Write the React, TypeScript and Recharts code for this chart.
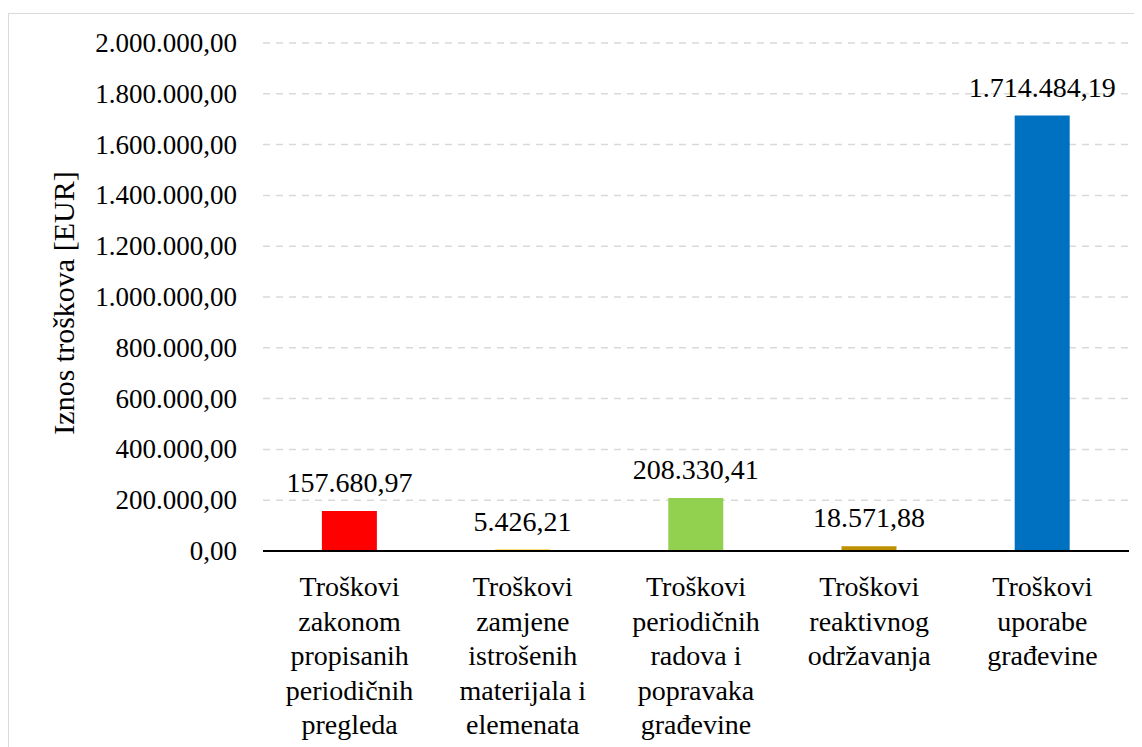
import { Bar, BarChart, CartesianGrid, Cell, LabelList, XAxis, YAxis } from 'recharts'

const categories = [
  'Troškovi zakonom propisanih periodičnih pregleda',
  'Troškovi zamjene istrošenih materijala i elemenata',
  'Troškovi periodičnih radova i popravaka građevine',
  'Troškovi reaktivnog održavanja',
  'Troškovi uporabe građevine',
]

const categoryLines = [
  ['Troškovi', 'zakonom', 'propisanih', 'periodičnih', 'pregleda'],
  ['Troškovi', 'zamjene', 'istrošenih', 'materijala i', 'elemenata'],
  ['Troškovi', 'periodičnih', 'radova i', 'popravaka', 'građevine'],
  ['Troškovi', 'reaktivnog', 'održavanja'],
  ['Troškovi', 'uporabe', 'građevine'],
]

const costs = [157680.97, 5426.21, 208330.41, 18571.88, 1714484.19]

const barColors = ['#FF0000', '#FFC000', '#92D050', '#BF9000', '#0070C0']

const yTicks = [0, 200000, 400000, 600000, 800000, 1000000, 1200000, 1400000, 1600000, 1800000, 2000000]

const data = categories.map((name, i) => ({ name, cost: costs[i] }))

const FONT = 'Liberation Serif'

const css = `
#root .chart-box svg text, #root .chart-box svg tspan {
  font-family: 'Liberation Serif', 'Times New Roman', serif !important;
  font-stretch: normal !important;
  font-weight: normal !important;
}
`

// hr format: 1.714.484,19
function fmt(v: number) {
  const [int, dec] = Math.abs(v).toFixed(2).split('.')
  const withDots = int.replace(/\B(?=(\d{3})+(?!\d))/g, '.')
  return `${withDots},${dec}`
}

function CategoryTick(props: any) {
  const { x, y, index } = props
  const lines = categoryLines[index] || []
  return (
    <text x={x} y={y} textAnchor='middle' fill='#000' fontFamily={FONT} fontSize={28}>
      {lines.map((l, i) => (
        <tspan key={i} x={x} dy={i === 0 ? 37 : 34.5}>
          {l}
        </tspan>
      ))}
    </text>
  )
}

function ValueTick(props: any) {
  const { x, y, payload } = props
  return (
    <text x={x} y={y} textAnchor='end' dominantBaseline='central' fill='#000' fontFamily={FONT} fontSize={27}>
      {fmt(payload.value)}
    </text>
  )
}

export default function App() {
  return (
    <div
      className='chart-box'
      style={{
        marginTop: 5,
        width: 1132,
        height: 740,
        border: '1px solid #d9d9d9',
        background: '#fff',
        overflow: 'hidden',
        fontFamily: FONT,
      }}
    >
      <style>{css}</style>
      <BarChart
        width={1132}
        height={740}
        data={data}
        margin={{ top: 29, right: 12, left: 0, bottom: 0 }}
        barCategoryGap='34%'
      >
        <CartesianGrid vertical={false} stroke='#d9d9d9' strokeDasharray='7 6' strokeWidth={1.5} />
        <XAxis
          dataKey='name'
          tick={<CategoryTick />}
          tickLine={false}
          axisLine={{ stroke: '#000', strokeWidth: 2 }}
          height={203}
          interval={0}
        />
        <YAxis
          width={254}
          domain={[0, 2000000]}
          ticks={yTicks}
          tickLine={false}
          axisLine={false}
          tickMargin={20}
          tick={<ValueTick />}
          label={{
            content: () => (
              <text
                x={54}
                y={289}
                transform='rotate(-90 54 289)'
                textAnchor='middle'
                dominantBaseline='central'
                fill='#000'
                fontFamily={FONT}
                fontSize={30}
              >
                Iznos troškova [EUR]
              </text>
            ),
          }}
        />
        <Bar dataKey='cost' isAnimationActive={false}>
          {data.map((d, i) => (
            <Cell key={d.name} fill={barColors[i]} />
          ))}
          <LabelList
            dataKey='cost'
            position='top'
            offset={19}
            formatter={(v: any) => fmt(Number(v))}
            fill='#000'
            fontFamily={FONT}
            fontSize={28}
          />
        </Bar>
      </BarChart>
    </div>
  )
}
